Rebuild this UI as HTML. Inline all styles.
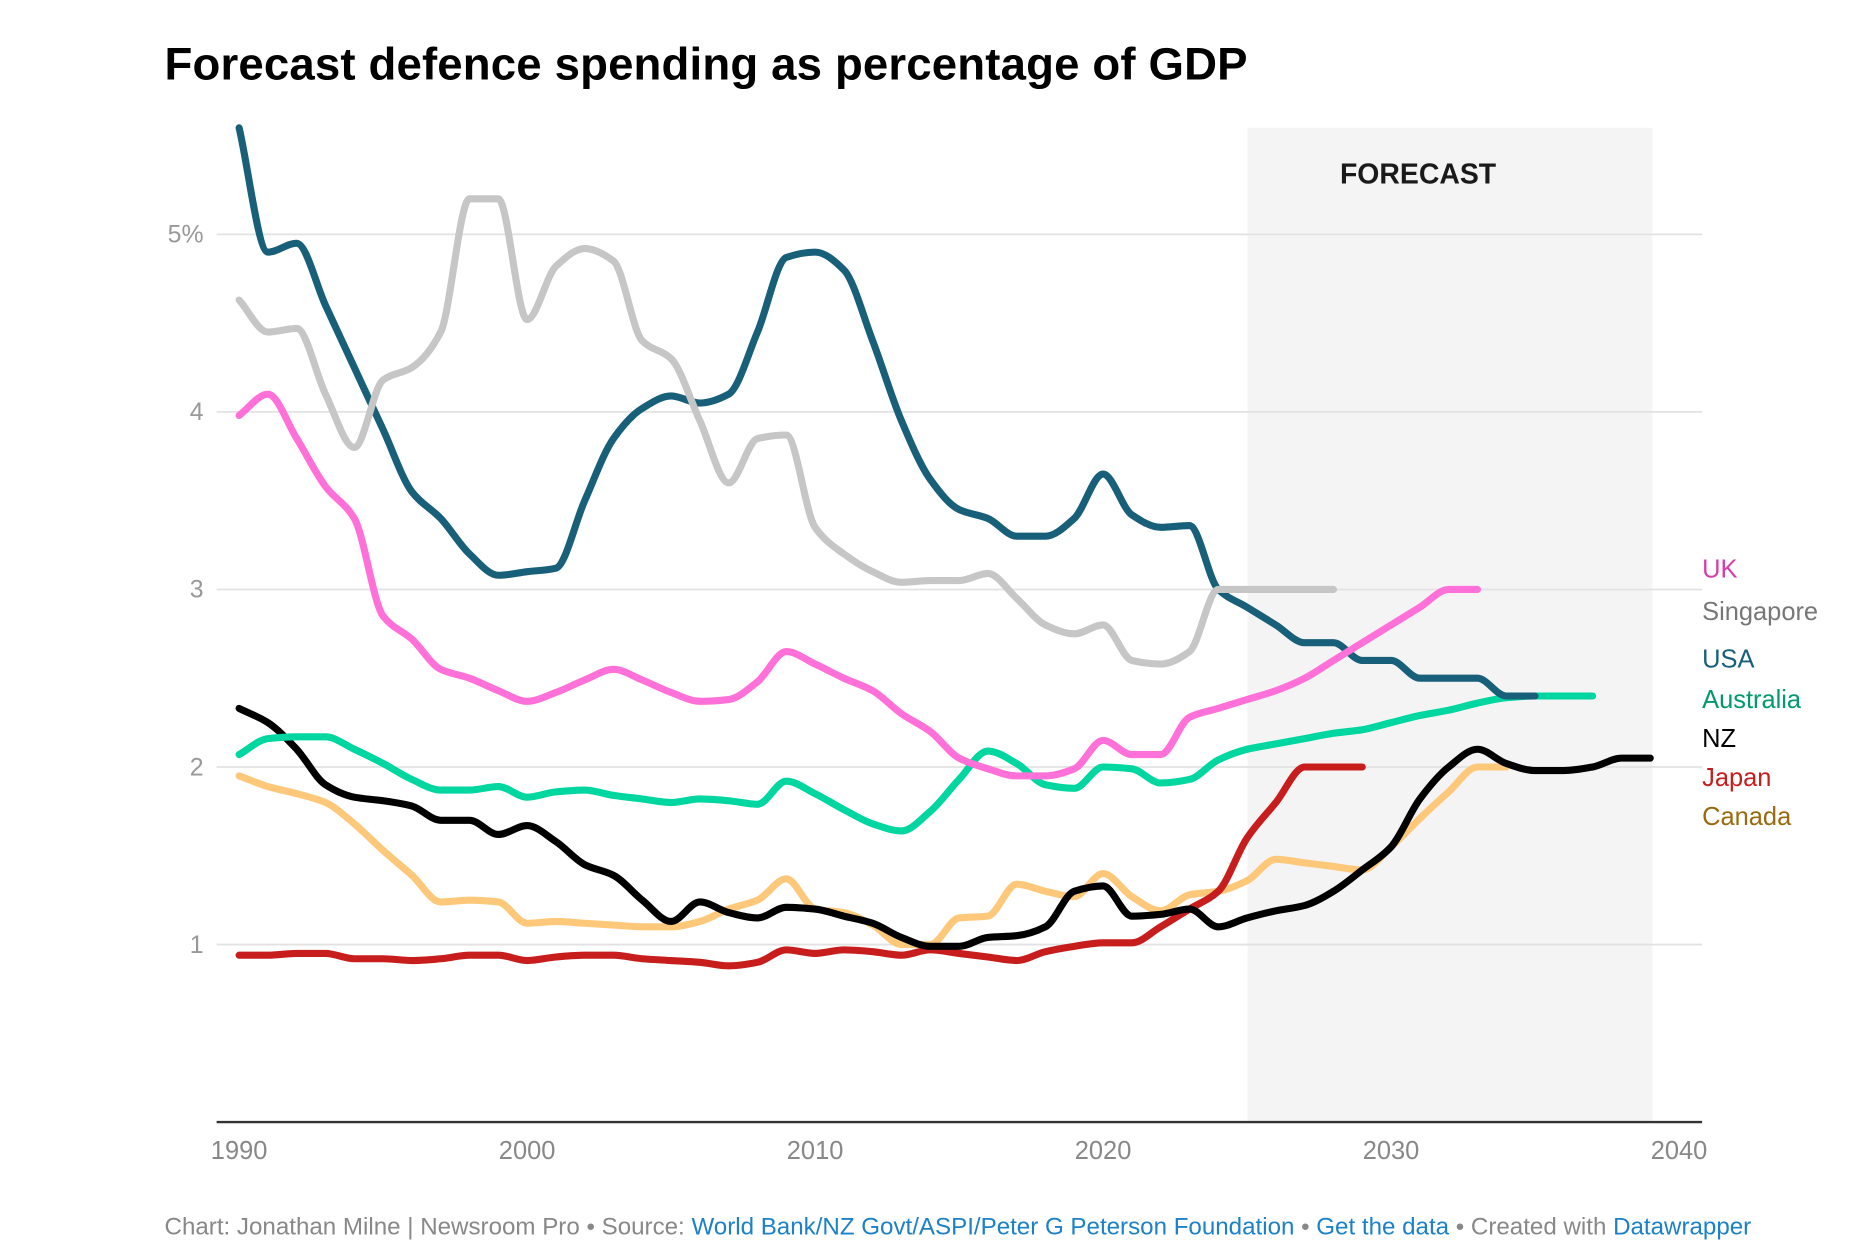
<!DOCTYPE html>
<html><head><meta charset="utf-8"><style>
html,body{margin:0;padding:0;background:#fff;width:1856px;height:1260px;overflow:hidden}
svg{display:block}
text{font-family:"Liberation Sans",sans-serif}
</style></head><body>
<svg id="chart" width="1856" height="1260" viewBox="0 0 1568 1064.5" xmlns="http://www.w3.org/2000/svg">
<text x="139" y="67" font-size="38.5" font-weight="bold" fill="#000" textLength="915">Forecast defence spending as percentage of GDP</text>
<rect x="1054" y="108" width="342" height="840" fill="#f4f4f4"/>
<text x="1198" y="155" font-size="24" font-weight="bold" text-anchor="middle" fill="#1a1a1a">FORECAST</text>
<g id="grid"></g><g id="lines"></g><g id="labels"></g>
<text x="139" y="1043" font-size="20.4" fill="#888">Chart: Jonathan Milne | Newsroom Pro • Source: <tspan fill="#1d81c8">World Bank/NZ Govt/ASPI/Peter G Peterson Foundation</tspan> • <tspan fill="#1d81c8">Get the data</tspan> • Created with <tspan fill="#1d81c8">Datawrapper</tspan></text>
</svg>
<script>
const yTicks=[1,2,3,4,5];
const yTickLabels=["1","2","3","4","5%"];
const xTicks=[1990,2000,2010,2020,2030,2040];
const usa=[5.6,4.9,4.95,4.6,4.25,3.9,3.55,3.4,3.2,3.08,3.1,3.12,3.5,3.85,4.02,4.09,4.05,4.1,4.45,4.87,4.9,4.8,4.4,3.95,3.62,3.45,3.4,3.3,3.3,3.4,3.65,3.42,3.35,3.36,3.0,2.9,2.8,2.7,2.7,2.6,2.6,2.5,2.5,2.5,2.4,2.4];
const singapore=[4.63,4.45,4.47,4.1,3.8,4.18,4.25,4.45,5.2,5.2,4.52,4.82,4.92,4.85,4.4,4.3,3.95,3.6,3.85,3.87,3.35,3.2,3.1,3.04,3.05,3.05,3.09,2.95,2.8,2.75,2.8,2.6,2.58,2.65,3.0,3.0,3.0,3.0,3.0];
const uk=[3.98,4.1,3.85,3.58,3.4,2.85,2.72,2.55,2.5,2.43,2.37,2.42,2.49,2.55,2.49,2.42,2.37,2.38,2.48,2.65,2.58,2.5,2.43,2.3,2.2,2.05,1.99,1.95,1.95,1.99,2.15,2.07,2.07,2.28,2.33,2.38,2.43,2.5,2.6,2.7,2.8,2.9,3.0,3.0];
const australia=[2.07,2.16,2.17,2.17,2.1,2.02,1.93,1.87,1.87,1.89,1.83,1.86,1.87,1.84,1.82,1.8,1.82,1.81,1.79,1.92,1.85,1.76,1.68,1.64,1.75,1.93,2.09,2.02,1.9,1.88,2.0,1.99,1.91,1.93,2.04,2.1,2.13,2.16,2.19,2.21,2.25,2.29,2.32,2.36,2.39,2.4,2.4,2.4];
const nz=[2.33,2.25,2.1,1.9,1.83,1.81,1.78,1.7,1.7,1.62,1.67,1.58,1.45,1.39,1.25,1.13,1.24,1.18,1.15,1.21,1.2,1.16,1.12,1.04,0.99,0.99,1.04,1.05,1.1,1.3,1.33,1.16,1.17,1.2,1.1,1.15,1.19,1.22,1.3,1.42,1.55,1.82,2.0,2.1,2.02,1.98,1.98,2.0,2.05,2.05];
const japan=[0.94,0.94,0.95,0.95,0.92,0.92,0.91,0.92,0.94,0.94,0.91,0.93,0.94,0.94,0.92,0.91,0.9,0.88,0.9,0.97,0.95,0.97,0.96,0.94,0.97,0.95,0.93,0.91,0.96,0.99,1.01,1.01,1.1,1.2,1.3,1.6,1.8,2.0,2.0,2.0];
const canada=[1.95,1.89,1.85,1.8,1.68,1.53,1.39,1.24,1.25,1.24,1.12,1.13,1.12,1.11,1.1,1.1,1.13,1.2,1.25,1.37,1.2,1.18,1.11,1.0,1.0,1.15,1.16,1.34,1.3,1.27,1.4,1.27,1.19,1.28,1.3,1.36,1.48,1.46,1.44,1.42,1.55,1.71,1.86,2.0,2.0];
const seriesNames=["Canada","Japan","NZ","Australia","USA","Singapore","UK"];
const NS="http://www.w3.org/2000/svg";
const X=yr=>202+(yr-1990)*24.33;
const Y=v=>948-v*150;
function el(t,a,p){const e=document.createElementNS(NS,t);for(const k in a)e.setAttribute(k,a[k]);p.appendChild(e);return e;}
const grid=document.getElementById('grid');
yTicks.forEach((t,i)=>{
 const l=el('line',{x1:183,x2:1438,y1:Y(t),y2:Y(t),stroke:'#e2e2e2','stroke-width':1.5},grid);
 
 
 const tx=el('text',{x:172,y:Y(t)+7,'font-size':21,fill:'#999','text-anchor':'end'},grid);tx.textContent=yTickLabels[i];
 
 
});
const ax=el('line',{x1:183,x2:1438,y1:948,y2:948,stroke:'#333','stroke-width':2},grid);


xTicks.forEach(t=>{
 const tx=el('text',{x:X(t),y:979,'font-size':21.5,fill:'#888','text-anchor':'middle'},grid);tx.textContent=t;
 
 
});
// monotone cubic interpolation
function path(d){const n=d.length;const xs=d.map((v,i)=>X(1990+i)),ys=d.map(Y);
 const h=xs[1]-xs[0];const s=[];for(let i=0;i<n-1;i++)s.push((ys[i+1]-ys[i])/h);
 const m=[];for(let i=0;i<n;i++){if(i===0)m.push(s[0]);else if(i===n-1)m.push(s[n-2]);else{
  if(s[i-1]*s[i]<=0)m.push(0);else m.push(2/(1/s[i-1]+1/s[i]));}}
 let p=`M${xs[0]},${ys[0]}`;
 for(let i=0;i<n-1;i++){p+=` C${xs[i]+h/3},${ys[i]+m[i]*h/3} ${xs[i+1]-h/3},${ys[i+1]-m[i+1]*h/3} ${xs[i+1]},${ys[i+1]}`;}
 return p;}
const data={Canada:canada,Japan:japan,NZ:nz,Australia:australia,USA:usa,Singapore:singapore,UK:uk};
const cols={Canada:'#fec87a',Japan:'#c71e1d',NZ:'#000',Australia:'#00d6a0',USA:'#18607a',Singapore:'#c6c6c6',UK:'#ff70d8'};
const lines=document.getElementById('lines');
seriesNames.forEach(n=>{
 const p=el('path',{d:path(data[n]),fill:'none',stroke:cols[n],'stroke-width':6,'stroke-linejoin':'round','stroke-linecap':'round'},lines);
 
 
});
const labels=[["UK",488,'#d63ea8'],["Singapore",524,'#777'],["USA",564,'#18607a'],["Australia",598,'#009970'],["NZ",631,'#000'],["Japan",664,'#c71e1d'],["Canada",697,'#9a6a10']];
const lg=document.getElementById('labels');
labels.forEach(([n,y,c])=>{
 const t=el('text',{x:1438,y:y,'font-size':21.5,fill:c},lg);t.textContent=n;
 
 
});
</script>
</body></html>
